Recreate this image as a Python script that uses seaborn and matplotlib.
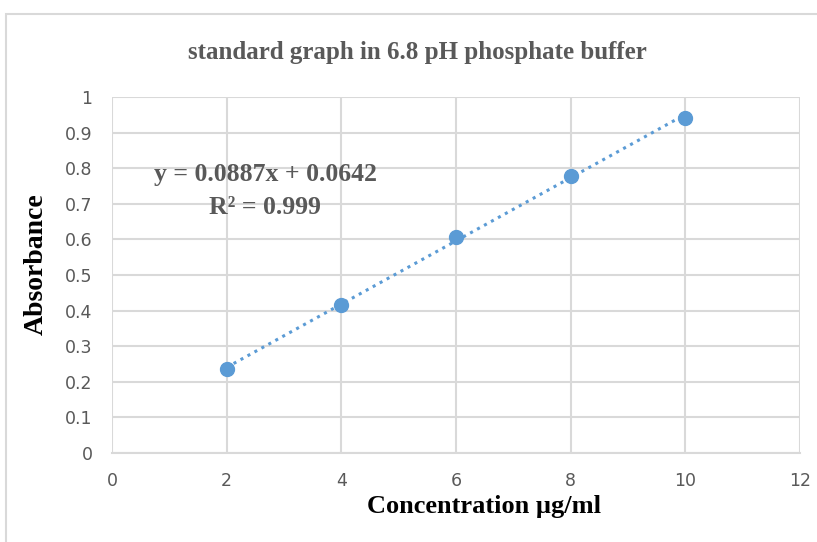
import seaborn as sns
import matplotlib.pyplot as plt
from matplotlib.patches import Rectangle
import pandas as pd

# data
concentration = [2, 4, 6, 8, 10]
absorbance = [0.235, 0.416, 0.608, 0.778, 0.942]
x_ticks = [0, 2, 4, 6, 8, 10, 12]
y_ticks = [0, 0.1, 0.2, 0.3, 0.4, 0.5, 0.6, 0.7, 0.8, 0.9, 1]
y_tick_labels = ["0", "0.1", "0.2", "0.3", "0.4", "0.5", "0.6", "0.7", "0.8", "0.9", "1"]
equation = "y = 0.0887x + 0.0642"
r_squared = "R² = 0.999"

df = pd.DataFrame({"conc": concentration, "abs": absorbance})

sns.set_style("white")
plt.rcParams["font.family"] = ["Liberation Sans Narrow", "DejaVu Sans"]

blue = "#5b9bd5"
grid = "#d9d9d9"
grey_text = "#595959"
serif = ["Liberation Serif"]

fig = plt.figure(figsize=(8.17, 5.42), dpi=100)
ax = fig.add_axes([112 / 817, 89 / 542, 688 / 817, 356 / 542])

# outer chart border
fig.patches.append(Rectangle((6 / 817, -0.1), 1.2, (542 - 14) / 542 + 0.1,
                             transform=fig.transFigure, fill=False,
                             edgecolor=grid, linewidth=1.5))

sns.regplot(x="conc", y="abs", data=df, ax=ax, ci=None, truncate=True,
            scatter_kws={"s": 100, "color": blue, "edgecolor": blue,
                         "alpha": 1, "zorder": 4},
            line_kws={"color": blue, "linestyle": (0, (1, 1.6)),
                      "linewidth": 2.2, "zorder": 3})

ax.set_xlim(0, 12)
ax.set_ylim(0, 1)
ax.set_xticks(x_ticks)
ax.set_yticks(y_ticks)
ax.set_yticklabels(y_tick_labels)
ax.grid(True, color=grid, linewidth=1.5)
ax.set_axisbelow(True)
for side in ["left", "top", "right"]:
    ax.spines[side].set_visible(False)
ax.spines["bottom"].set_color(grid)
ax.spines["bottom"].set_linewidth(1.5)
ax.tick_params(length=0, labelsize=12.5, labelcolor=grey_text, pad=14)

ax.set_xlabel("Concentration µg/ml", family=serif, fontsize=19,
              fontweight="bold", color="black")
ax.xaxis.set_label_coords(0.541, -0.118)
ax.set_ylabel("Absorbance", family=serif, fontsize=20,
              fontweight="bold", color="black")
ax.yaxis.set_label_coords(-0.092, 0.53)

fig.text(417 / 817, 1 - 52 / 542, "standard graph in 6.8 pH phosphate buffer",
         family=serif, fontsize=18, fontweight="bold",
         color=grey_text, ha="center", va="center")

ax.text((265 - 112) / 688, (453 - 175) / 356, equation,
        transform=ax.transAxes, family=serif, fontsize=18.5,
        fontweight="bold", color=grey_text, ha="center", va="center")
ax.text((265 - 112) / 688, (453 - 208) / 356, r_squared,
        transform=ax.transAxes, family=serif, fontsize=18.5,
        fontweight="bold", color=grey_text, ha="center", va="center")

fig.savefig("out.png", dpi=100, facecolor="white")
